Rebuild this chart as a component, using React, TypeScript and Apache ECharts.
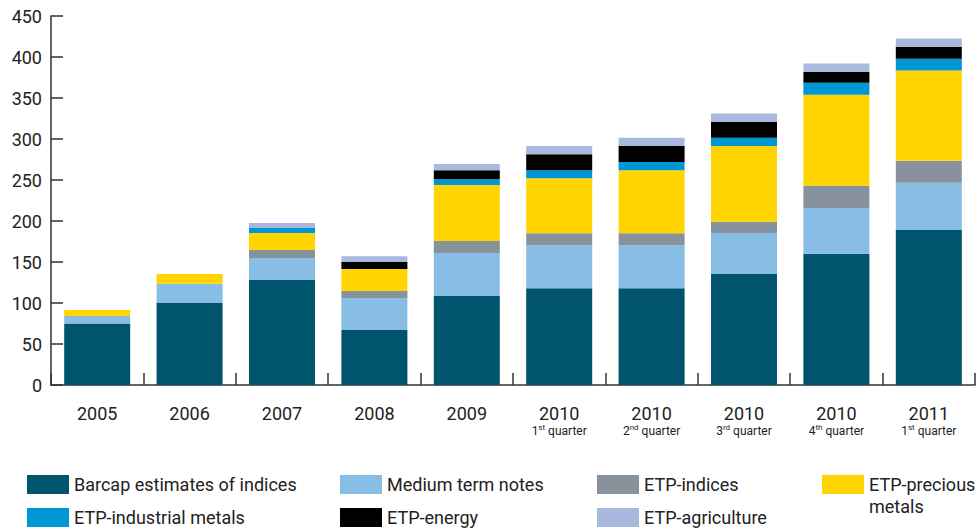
import React, { useEffect, useRef } from 'react';
import * as echarts from 'echarts';

const categories = ['2005', '2006', '2007', '2008', '2009', '2010 Q1', '2010 Q2', '2010 Q3', '2010 Q4', '2011 Q1'];
const yearLabels = ['2005', '2006', '2007', '2008', '2009', '2010', '2010', '2010', '2010', '2011'];
const quarterNums = ['', '', '', '', '', '1', '2', '3', '4', '1'];
const quarterSuffixes = ['', '', '', '', '', 'st', 'nd', 'rd', 'th', 'st'];

const barcap = [75, 100, 128, 67, 108.5, 118, 118, 135.5, 160, 189];
const mediumTermNotes = [9, 23.5, 27, 39, 52.5, 52.5, 52.5, 50, 56, 57.5];
const etpIndices = [0, 0, 9.5, 8.5, 14.5, 14.5, 14.5, 13.5, 27, 27];
const etpPrecious = [7.5, 12, 21, 27, 68.5, 67, 77, 92.5, 111, 110];
const etpIndustrial = [0, 0, 6, 0, 7, 10, 10, 10, 14.5, 14.5];
const etpEnergy = [0, 0, 0, 8.5, 11, 19.5, 19.5, 19.5, 13.5, 14.5];
const etpAgriculture = [0, 0, 6, 7, 7.5, 10, 10, 10, 10, 10];

const seriesNames = [
  'Barcap estimates of indices',
  'Medium term notes',
  'ETP-indices',
  'ETP-precious metals',
  'ETP-industrial metals',
  'ETP-energy',
  'ETP-agriculture',
];
const seriesData = [barcap, mediumTermNotes, etpIndices, etpPrecious, etpIndustrial, etpEnergy, etpAgriculture];
const seriesColors = ['#00546E', '#88BDE6', '#87929C', '#FFD400', '#0096D6', '#000000', '#A8B9E0'];

const FONT = 'Roboto, "Noto Sans", sans-serif';

export default function App() {
  const ref = useRef<HTMLDivElement>(null);
  useEffect(() => {
    if (!ref.current) return;
    const chart = echarts.init(ref.current, undefined, { renderer: 'svg' });
    const legendPos = [
      { left: 27, top: 475 },
      { left: 340, top: 475 },
      { left: 597, top: 475 },
      { left: 822, top: 475 },
      { left: 27, top: 508 },
      { left: 340, top: 508 },
      { left: 597, top: 508 },
    ];
    const option: any = {
      animation: false,
      textStyle: { fontFamily: FONT },
      grid: { left: 51, right: 5, top: 16, bottom: 144, containLabel: false },
      xAxis: {
        type: 'category',
        data: categories,
        boundaryGap: true,
        axisLine: { show: true, lineStyle: { color: '#333', width: 1.5 } },
        axisTick: { show: true, inside: true, length: 12, lineStyle: { color: '#333', width: 1.5 } },
        axisLabel: {
          interval: 0,
          margin: 18,
          color: '#222',
          formatter: (_v: string, i: number) => {
            const y = `{y|${yearLabels[i]}}`;
            if (!quarterNums[i]) return y;
            return `${y}\n{n|${quarterNums[i]}}{s|${quarterSuffixes[i]}}{q| quarter}`;
          },
          rich: {
            y: { fontSize: 18, lineHeight: 20, color: '#222', fontFamily: FONT },
            n: { fontSize: 12, lineHeight: 16, color: '#222', fontFamily: FONT },
            q: { fontSize: 12, lineHeight: 16, color: '#222', fontFamily: FONT },
            s: { fontSize: 8, lineHeight: 9, color: '#222', fontFamily: FONT, verticalAlign: 'top' },
          },
        },
        splitLine: { show: false },
      },
      yAxis: {
        type: 'value',
        min: 0,
        max: 450,
        interval: 50,
        axisLine: { show: true, lineStyle: { color: '#333', width: 1.5 } },
        axisTick: { show: true, inside: true, length: 12, lineStyle: { color: '#333', width: 1.5 } },
        axisLabel: { fontSize: 18, color: '#222', margin: 9, fontFamily: FONT },
        splitLine: { show: false },
      },
      legend: seriesNames.map((name, i) => ({
        data: [name],
        left: legendPos[i].left,
        top: legendPos[i].top,
        padding: 0,
        itemWidth: 42,
        itemHeight: 19,
        icon: 'rect',
        selectedMode: false,
        formatter: (n: string) => (n === 'ETP-precious metals' ? 'ETP-precious' : n),
        textStyle: { fontSize: 18, color: '#222', fontFamily: FONT },
      })),
      graphic: [
        {
          type: 'text',
          left: 869,
          top: 497,
          style: { text: 'metals', fontSize: 18, fill: '#222', fontFamily: FONT },
        },
      ],
      series: seriesNames.map((name, i) => ({
        name,
        type: 'bar',
        stack: 'total',
        barWidth: 66,
        data: seriesData[i],
        itemStyle: { color: seriesColors[i] },
        emphasis: { disabled: true },
      })),
    };
    chart.setOption(option);
    return () => chart.dispose();
  }, []);
  return <div ref={ref} style={{ width: 980, height: 529, position: 'absolute', left: 0, top: 0 }} />;
}
